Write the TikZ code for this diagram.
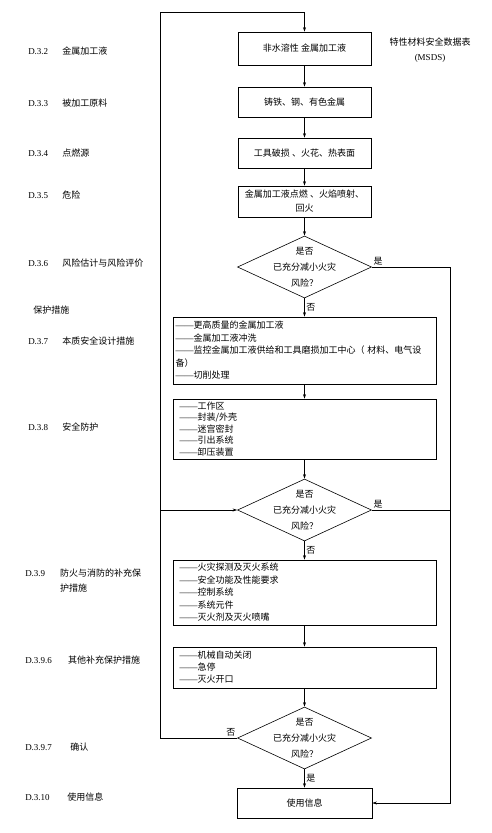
\documentclass[tikz,border=0pt]{standalone}
\usepackage{fontspec}
\setmainfont{Liberation Serif}
\newfontfamily\cjk{Noto Sans CJK SC}
\usetikzlibrary{shapes.geometric,arrows.meta}
\newcommand{\secnum}[3]{\makebox[#2][l]{\rmfamily #1}#3}
\newcommand{\itemdash}{{\rmfamily ——}}

\begin{document}
\begin{tikzpicture}[x=1pt,y=-1pt,
  font=\cjk\fontsize{9}{12}\selectfont,
  >={Stealth[length=4.5pt,width=3pt]},
  line width=0.5pt,
  box/.style={draw,line width=0.9pt,minimum width=133pt,align=center,inner sep=2pt},
  listbox/.style={draw,line width=0.9pt,minimum height=#1,align=left,inner ysep=1pt},
  decision/.style={draw,diamond,aspect=2.15,minimum width=134pt,minimum height=62pt,inner sep=0pt,line width=0.6pt},
  dtext/.style={align=center,inner sep=0pt,font=\cjk\fontsize{9}{16}\selectfont},
  sec/.style={anchor=west,align=left,inner sep=0pt},
  yesno/.style={inner sep=1.5pt}]
\useasboundingbox (0,0) rectangle (492,833);

\node[sec] (s32) at (28,51) {\secnum{D.3.2}{34pt}{金属加工液}};
\node[sec] (s33) at (28,103) {\secnum{D.3.3}{34pt}{被加工原料}};
\node[sec] (s34) at (28,153) {\secnum{D.3.4}{34pt}{点燃源}};
\node[sec] (s35) at (28,195) {\secnum{D.3.5}{34pt}{危险}};
\node[sec] (s36) at (28,263) {\secnum{D.3.6}{34pt}{风险估计与风险评价}};
\node[sec] (prot) at (33,310) {保护措施};
\node[sec] (s37) at (28,341) {\secnum{D.3.7}{34pt}{本质安全设计措施}};
\node[sec] (s38) at (28,427) {\secnum{D.3.8}{34pt}{安全防护}};
\node[sec,font=\cjk\fontsize{9}{15}\selectfont] (s39) at (25,581) {\secnum{D.3.9}{35pt}{防火与消防的补充保}\\\hspace*{35pt}护措施};
\node[sec] (s396) at (25,660) {\secnum{D.3.9.6}{43pt}{其他补充保护措施}};
\node[sec] (s397) at (25,747) {\secnum{D.3.9.7}{45pt}{确认}};
\node[sec] (s310) at (25,797) {\secnum{D.3.10}{42pt}{使用信息}};

\node[box,minimum height=33pt] (b1) at (304.5,48.5) {非水溶性 金属加工液};
\node[align=center,font=\cjk\fontsize{9}{15}\selectfont] (msds) at (430,50) {特性材料安全数据表\\{\rmfamily (MSDS)}};
\node[box,minimum height=30pt] (b2) at (304.5,102) {铸铁、钢、有色金属};
\node[box,minimum height=30pt] (b3) at (304.5,153) {工具破损 、火花、热表面};
\node[box,minimum height=31pt,font=\cjk\fontsize{9}{14}\selectfont] (b4) at (304.5,201.5) {金属加工液点燃 、火焰喷射、\\回火};
\node[decision] (d1) at (304.5,267) {};
\node[dtext] (d1t) at (d1) {是否\\已充分减小火灾\\风险？};
\node[listbox=67pt,inner xsep=2.5pt,text width=258pt,font=\cjk\fontsize{9}{12.5}\selectfont] (b5) at (304.5,350.5)
  {\itemdash 更高质量的金属加工液\\\itemdash 金属加工液冲洗\\\itemdash 监控金属加工液供给和工具磨损加工中心（ 材料、电气设\\备）\\\itemdash 切削处理};
\node[listbox=60pt,inner xsep=6.5pt,text width=250pt,font=\cjk\fontsize{9}{11.5}\selectfont] (b6) at (304.5,429)
  {\itemdash 工作区\\\itemdash 封装/外壳\\\itemdash 迷宫密封\\\itemdash 引出系统\\\itemdash 卸压装置};
\node[decision] (d2) at (304.5,510) {};
\node[dtext] (d2t) at (d2) {是否\\已充分减小火灾\\风险？};
\node[listbox=65pt,inner xsep=6.5pt,text width=250pt,font=\cjk\fontsize{9}{12.5}\selectfont] (b7) at (304.5,592.5)
  {\itemdash 火灾探测及灭火系统\\\itemdash 安全功能及性能要求\\\itemdash 控制系统\\\itemdash 系统元件\\\itemdash 灭火剂及灭火喷嘴};
\node[listbox=41pt,inner xsep=6.5pt,text width=250pt,font=\cjk\fontsize{9}{12}\selectfont] (b8) at (304.5,667.5)
  {\itemdash 机械自动关闭\\\itemdash 急停\\\itemdash 灭火开口};
\node[decision] (d3) at (304.5,738) {};
\node[dtext] (d3t) at (d3) {是否\\已充分减小火灾\\风险？};
\node[box,minimum width=135pt,minimum height=30pt] (b9) at (304.5,803) {使用信息};

\coordinate (ltop) at (160,12);
\coordinate (rline) at (450,267);

\draw[->] (b1) -- (b2);
\draw[->] (b2) -- (b3);
\draw[->] (b3) -- (b4);
\draw[->] (b4) -- (d1);
\draw[->] (d1) -- node[right,yesno] {否} (b5);
\draw[->] (b5) -- (b6);
\draw[->] (b6) -- (d2);
\draw[->] (d2) -- node[right,yesno] {否} (b7);
\draw[->] (b7) -- (b8);
\draw[->] (b8) -- (d3);
\draw[->] (d3) -- node[right,yesno] {是} (b9);
\draw[->] (d3.west) node[above left,yesno] {否} -| (ltop) -| (b1.north);
\draw[->] (ltop |- d2.west) -- (d2.west);
\draw[->] (d1.east) node[above right,yesno] {是} -- (rline) |- (b9.east);
\draw (d2.east) node[above right,yesno] {是} -- (d2.east -| rline);
\end{tikzpicture}
\end{document}
